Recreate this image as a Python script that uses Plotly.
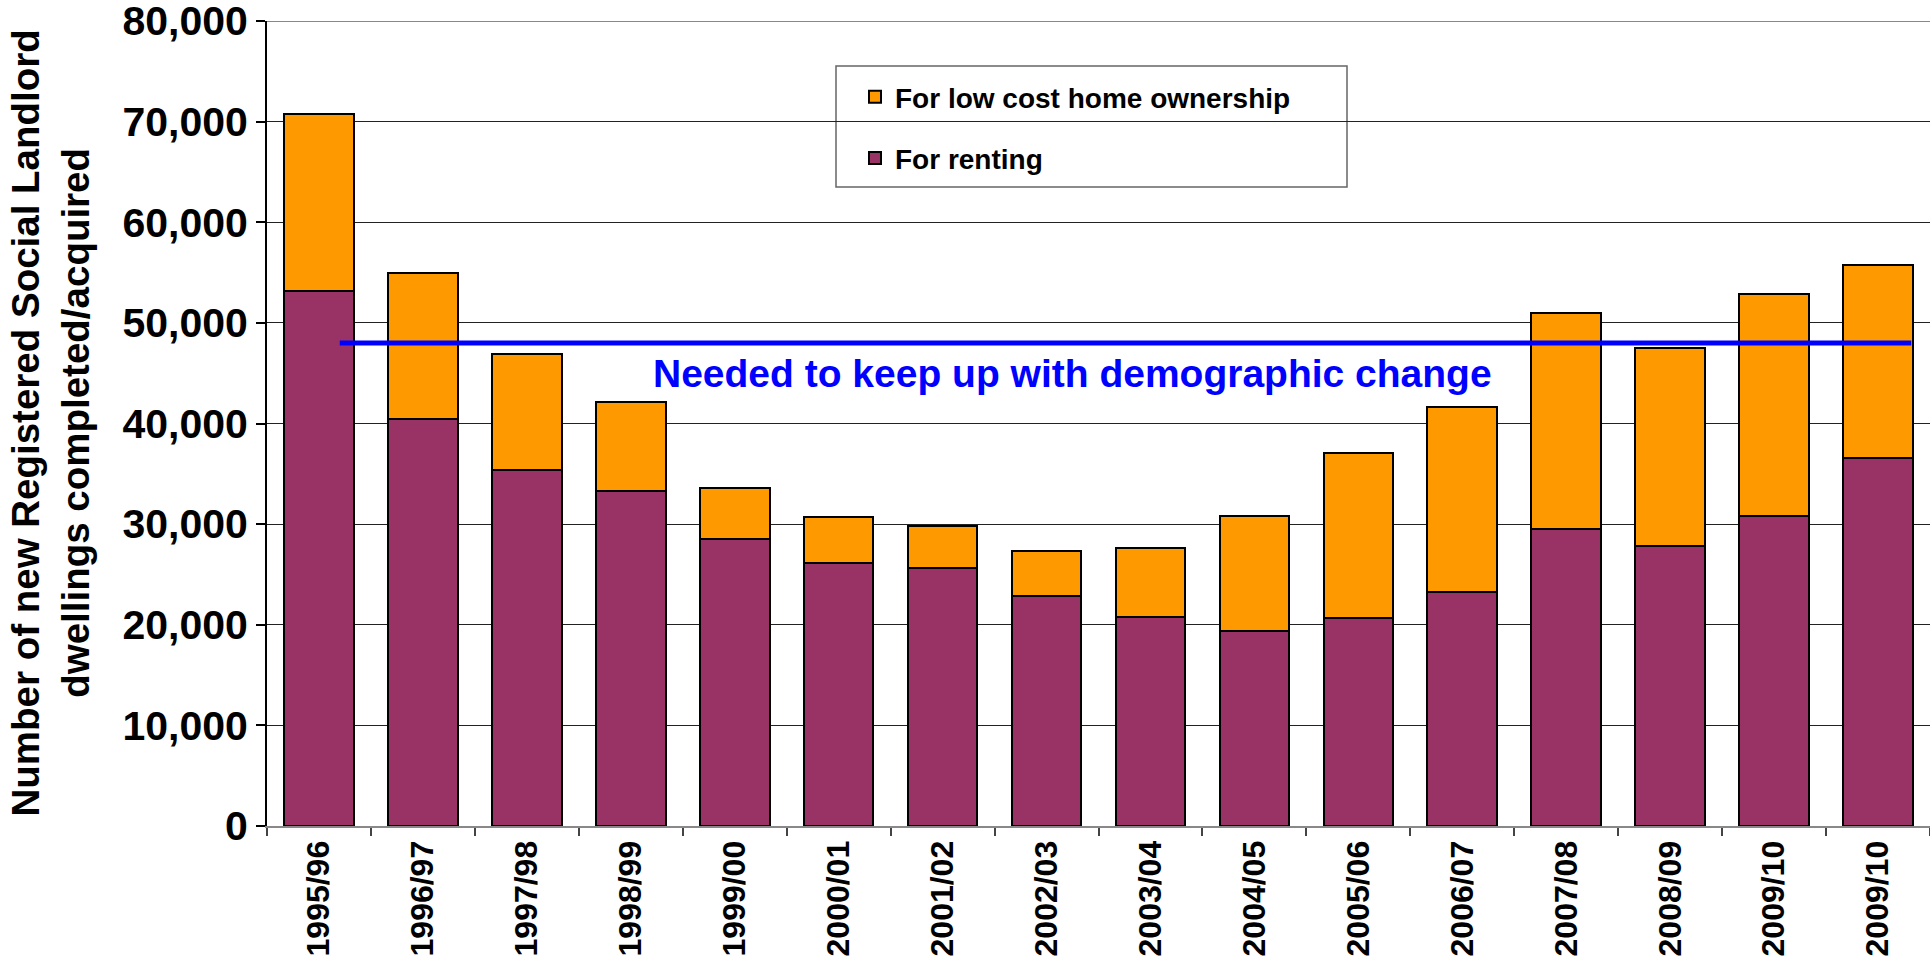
import plotly.graph_objects as go

# ---- data ----
years = ["1995/96", "1996/97", "1997/98", "1998/99", "1999/00", "2000/01",
         "2001/02", "2002/03", "2003/04", "2004/05", "2005/06", "2006/07",
         "2007/08", "2008/09", "2009/10", "2009/10"]
renting = [53200, 40400, 35400, 33300, 28500, 26100, 25600, 22900,
           20800, 19400, 20700, 23300, 29500, 27800, 30800, 36600]
total = [70800, 55000, 46900, 42100, 33600, 30700, 29800, 27300,
         27600, 30800, 37100, 41600, 51000, 47500, 52900, 55800]
low_cost = [t - r for t, r in zip(total, renting)]
needed = 48000
y_ticks = [0, 10000, 20000, 30000, 40000, 50000, 60000, 70000, 80000]

# unique category keys (duplicate labels kept visually identical)
cats = []
for i, y in enumerate(years):
    cats.append(y + " " * years[:i].count(y))

FONT = "Liberation Sans, Arial, sans-serif"
ORANGE = "#FF9900"
PURPLE = "#993366"

fig = go.Figure()
fig.add_trace(go.Bar(x=cats, y=renting, name="For renting", legendrank=2,
                     legendgroup="renting",
                     marker=dict(color=PURPLE, line=dict(color="black", width=2))))
fig.add_trace(go.Bar(x=cats, y=low_cost, name="For low cost home ownership", legendrank=1,
                     legendgroup="lowcost",
                     marker=dict(color=ORANGE, line=dict(color="black", width=2))))

# top border of plot area (at 80,000)
fig.add_shape(type="line", xref="paper", yref="y", x0=0, x1=1, y0=y_ticks[-1], y1=y_ticks[-1],
              line=dict(color="#888888", width=2), layer="below")

# demand line
fig.add_shape(type="line", xref="x", yref="y", x0=0.2, x1=15.32, y0=needed, y1=needed,
              line=dict(color="#0000FF", width=5), layer="above")
fig.add_annotation(xref="x", yref="y", x=7.25, y=needed - 3000,
                   text="Needed to keep up with demographic change",
                   showarrow=False, xanchor="center", yanchor="middle",
                   font=dict(family=FONT, size=39, color="#0000FF", weight="bold"))

# legend box
fig.add_shape(type="rect", xref="paper", yref="paper",
              x0=(836 - 267) / 1663, x1=(1347 - 267) / 1663,
              y0=(826 - 187) / 805, y1=(826 - 66) / 805,
              line=dict(color="#666666", width=1.5), fillcolor="white", layer="below")

# y title
fig.add_annotation(xref="paper", yref="paper", x=(50 - 267) / 1663, y=0.5,
                   text="Number of new Registered Social Landlord<br>dwellings completed/acquired",
                   textangle=-90, showarrow=False, xanchor="center", yanchor="middle",
                   font=dict(family=FONT, size=38.5, color="black", weight="bold"))

fig.update_layout(
    width=1930, height=963,
    margin=dict(l=267, r=0, t=21, b=137),
    barmode="stack", bargap=0.33,
    plot_bgcolor="white", paper_bgcolor="white",
    font=dict(family=FONT, color="black"),
    legend=dict(x=(855 - 267) / 1663, y=(826 - 72) / 805, xanchor="left", yanchor="top",
                traceorder="grouped", tracegroupgap=22,
                bgcolor="rgba(0,0,0,0)", borderwidth=0,
                font=dict(family=FONT, size=28, color="black", weight="bold")),
    xaxis=dict(type="category", tickson="boundaries", ticks="outside", ticklen=8,
               tickcolor="#444", tickwidth=1.5, tickangle=-90,
               showline=True, linecolor="#888", linewidth=2, showgrid=False,
               tickfont=dict(family=FONT, size=32, color="black", weight="bold"),
               tickvals=cats, ticktext=years),
    yaxis=dict(range=[0, 80000], tickvals=y_ticks, tickformat=",d",
               ticks="outside", ticklen=9, tickcolor="black", tickwidth=1.5,
               showline=True, linecolor="black", linewidth=2, automargin=False,
               ticklabeloverflow="allow",
               showgrid=True, gridcolor="#222", gridwidth=1.2, zeroline=False,
               tickfont=dict(family=FONT, size=41, color="black", weight="bold")),
)

fig.write_html("out.html", config={"displayModeBar": False},
               post_script="document.body.style.margin='0';document.body.style.overflow='hidden';")
